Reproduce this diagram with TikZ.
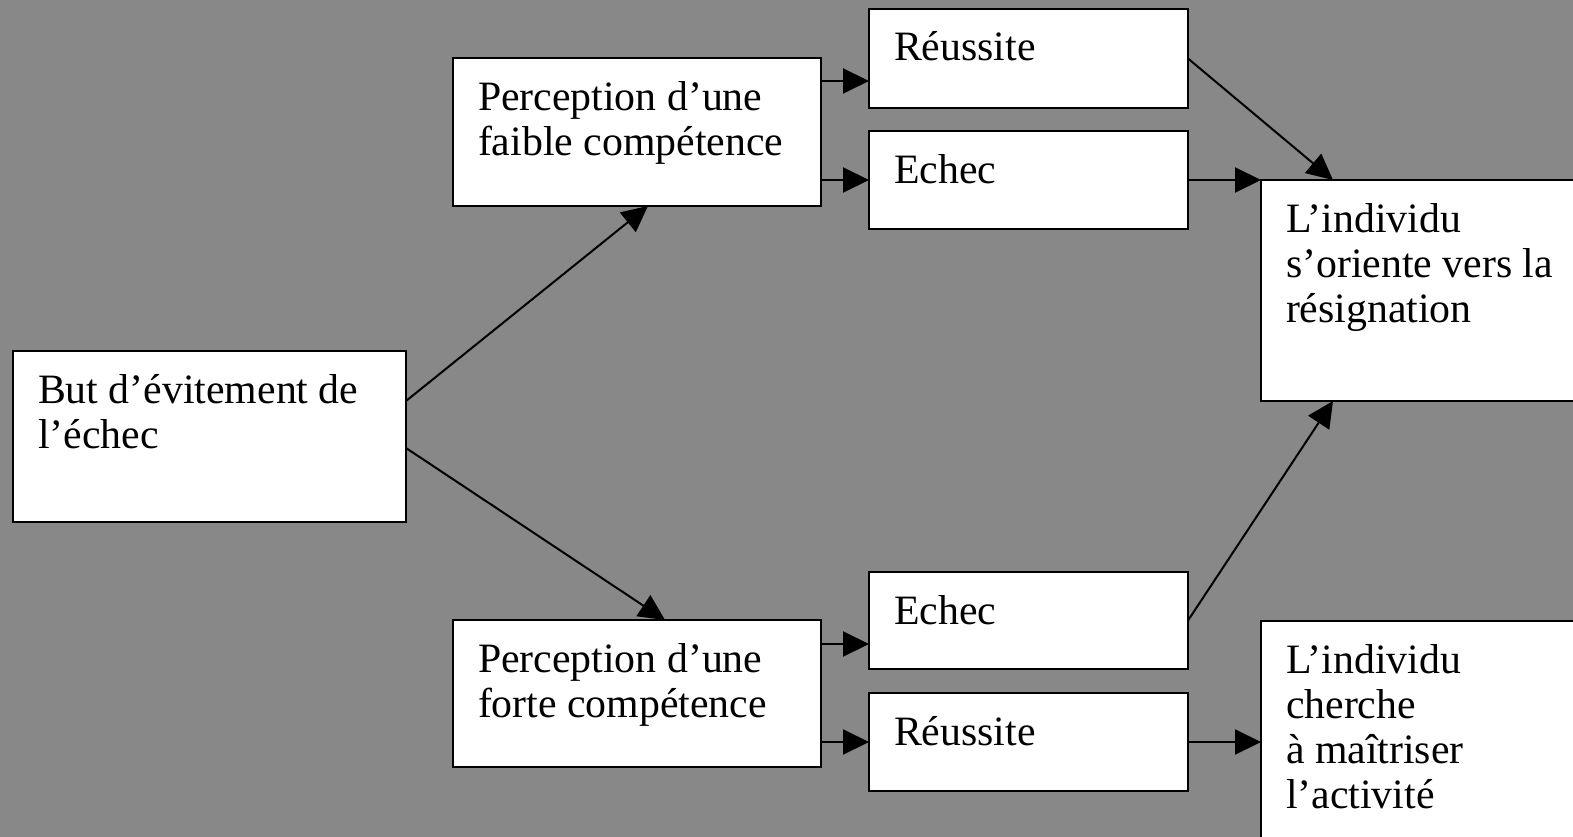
\documentclass[tikz,border=0pt]{standalone}
\usepackage{fontspec}
\setmainfont{Liberation Serif}
\usetikzlibrary{arrows.meta,calc}
\definecolor{bg}{RGB}{136,136,136}
% top-aligned text block of fixed width and height; first baseline 52pt below the top
\newcommand{\cellbox}[3]{\parbox[b][#2][t]{#1}{\raggedright\rule{0pt}{52pt}#3}}
\begin{document}
\begin{tikzpicture}[x=1pt,y=-1pt,
  box/.style={draw=black,line width=2.5pt,fill=white,anchor=north west,
    inner xsep=25pt,inner ysep=0pt,outer sep=0pt,
    font=\fontsize{41.8}{45}\selectfont},
  arr/.style={line width=2pt,-{Triangle[length=26pt,width=25pt]}}]
\path[use as bounding box] (0,0) rectangle (1573,837);
\clip (0,0) rectangle (1573,837);
\fill[bg] (0,0) rectangle (1573,837);

% boxes
\node[box] (A)    at (13,351)  {\cellbox{343pt}{171pt}{But d’évitement de\\l’échec}};
\node[box] (P1)   at (453,58)  {\cellbox{318pt}{148pt}{Perception d’une\\faible compétence}};
\node[box] (R1)   at (869,9)   {\cellbox{269pt}{99pt}{Réussite}};
\node[box] (E1)   at (869,131) {\cellbox{269pt}{98pt}{Echec}};
\node[box] (Res)  at (1261,180){\cellbox{299pt}{221pt}{L’individu\\s’oriente vers la\\résignation}};
\node[box] (P2)   at (453,620) {\cellbox{318pt}{147pt}{Perception d’une\\forte compétence}};
\node[box] (E2)   at (869,572) {\cellbox{269pt}{97pt}{Echec}};
\node[box] (R2)   at (869,693) {\cellbox{269pt}{98pt}{Réussite}};
\node[box] (Res2) at (1261,621){\cellbox{299pt}{240pt}{L’individu\\cherche\\à maîtriser\\l’activité}};

% entry points on the outcome boxes
\coordinate (r1in) at ([yshift=-22.5pt]R1.west);
\coordinate (e2in) at ([yshift=-23.5pt]E2.west);

% connectors
\draw[arr] ([yshift=35.5pt]A.east) -- ([xshift=11pt]P1.south);
\draw[arr] ([yshift=-11.5pt]A.east) -- ([xshift=28pt]P2.north);
\draw[arr] (P1.east |- r1in) -- (r1in);
\draw[arr] (P1.east |- E1.west) -- (E1.west);
\draw[arr] (P2.east |- e2in) -- (e2in);
\draw[arr] (P2.east |- R2.west) -- (R2.west);
\draw[arr] (R1.east) -- ([xshift=72pt]Res.north west);
\draw[arr] (E1.east) -- (Res.north west);
\draw[arr] (E2.east) -- ([xshift=72pt]Res.south west);
\draw[arr] (R2.east) -- (Res2.west |- R2.east);
\end{tikzpicture}
\end{document}
